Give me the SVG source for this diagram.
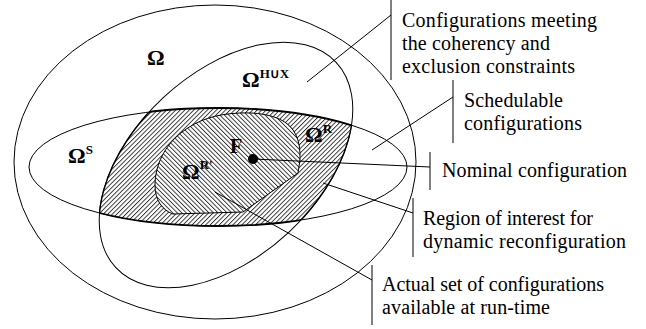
<svg xmlns="http://www.w3.org/2000/svg" width="646" height="329" viewBox="0 0 646 329" font-family="Liberation Serif, Times New Roman, serif">
<style>
.c{fill:none;stroke:#000;stroke-width:1}
.l{fill:none;stroke:#000;stroke-width:1}
.t{font-size:20px;fill:#000}
.g{font-weight:bold;fill:#000}
.big{font-size:22px}
.sup{font-size:13px}
</style>
<defs>
<pattern id="hatchA" width="3.2" height="3.2" patternUnits="userSpaceOnUse" patternTransform="rotate(45)">
<rect width="3.2" height="3.2" fill="#fff"/>
<line x1="0.5" y1="-1" x2="0.5" y2="5" stroke="#000" stroke-width="0.75"/>
</pattern>
<pattern id="hatchB" width="3.2" height="3.2" patternUnits="userSpaceOnUse" patternTransform="rotate(-45)">
<rect width="3.2" height="3.2" fill="#fff"/>
<line x1="0.5" y1="-1" x2="0.5" y2="5" stroke="#000" stroke-width="0.75"/>
</pattern>
<clipPath id="clipHX">
<ellipse cx="226" cy="165" rx="150.6" ry="92" transform="rotate(-43 226 165)"/>
</clipPath>
<clipPath id="clipS">
<ellipse cx="218" cy="167" rx="189" ry="59"/>
</clipPath>
</defs>
<rect width="646" height="329" fill="#fff"/>

<g id="omega">
<ellipse class="c" cx="215" cy="162" rx="201" ry="157"/>
<text class="g big" x="147" y="65">Ω</text>
</g>

<g id="omega-hx">
<ellipse class="c" cx="226" cy="165" rx="150.6" ry="92" transform="rotate(-43 226 165)"/>
<text class="g big" x="242" y="87">Ω<tspan class="sup" dy="-9">H∪X</tspan></text>
</g>

<g id="omega-s">
<ellipse class="c" cx="218" cy="167" rx="189" ry="59"/>
<text class="g big" x="68" y="163">Ω<tspan class="sup" dy="-9">S</tspan></text>
</g>

<g id="omega-r">
<g clip-path="url(#clipHX)">
<ellipse cx="218" cy="167" rx="189" ry="59" fill="url(#hatchA)" stroke="#000" stroke-width="1.8"/>
</g>
<g clip-path="url(#clipS)">
<ellipse cx="226" cy="165" rx="150.6" ry="92" transform="rotate(-43 226 165)" fill="none" stroke="#000" stroke-width="1.4"/>
</g>
<text class="g big" x="305" y="142">Ω<tspan class="sup" dy="-9">R</tspan></text>
</g>

<g id="omega-r-prime">
<path d="M173,214 C162,210 155,200 155,185 C155,165 165,145 182,132 C198,120 215,114 240,113 C265,112 285,118 293,130 C300,140 300,150 300,160 L298,173 L243,212 Z" fill="url(#hatchB)" stroke="#000" stroke-width="1"/>
<text class="g big" x="182" y="179">Ω<tspan class="sup" dy="-10">R'</tspan></text>
</g>

<g id="nominal-f">
<circle cx="253" cy="159" r="5" fill="#000"/>
<text class="g" font-size="20" x="230" y="153">F</text>
</g>

<g id="connectors">
<line class="l" x1="391" y1="15" x2="307" y2="82"/>
<line class="l" x1="391" y1="0" x2="391" y2="80"/>
<line class="l" x1="453" y1="97" x2="372" y2="150"/>
<line class="l" x1="453" y1="80" x2="453" y2="143"/>
<line class="l" x1="253" y1="159" x2="430" y2="167"/>
<line class="l" x1="430" y1="152" x2="430" y2="190"/>
<line class="l" x1="413" y1="213" x2="323" y2="183"/>
<line class="l" x1="413" y1="198" x2="413" y2="257"/>
<line class="l" x1="372" y1="280" x2="215" y2="192"/>
<line class="l" x1="372" y1="265" x2="372" y2="325"/>
</g>

<g id="label-coherency">
<text class="t" x="402" y="27" textLength="195">Configurations meeting</text>
<text class="t" x="402" y="50" textLength="148">the coherency and</text>
<text class="t" x="402" y="73" textLength="173">exclusion constraints</text>
</g>
<g id="label-schedulable">
<text class="t" x="464" y="107" textLength="99">Schedulable</text>
<text class="t" x="464" y="130" textLength="118">configurations</text>
</g>
<g id="label-nominal">
<text class="t" x="442" y="177" textLength="185">Nominal configuration</text>
</g>
<g id="label-region">
<text class="t" x="423" y="225" textLength="170">Region of interest for</text>
<text class="t" x="423" y="248" textLength="203">dynamic reconfiguration</text>
</g>
<g id="label-actual">
<text class="t" x="382" y="291" textLength="222">Actual set of configurations</text>
<text class="t" x="382" y="314" textLength="168">available at run-time</text>
</g>
</svg>
